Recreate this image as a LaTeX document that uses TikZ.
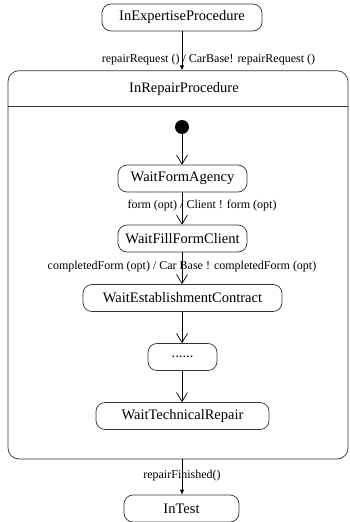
\documentclass[tikz,border=0pt]{standalone}
\usepackage{fontspec}
\setmainfont{Liberation Serif}
\usetikzlibrary{arrows.meta}
\begin{document}
\begin{tikzpicture}[x=1pt,y=-1pt,
  line width=0.7pt,
  statebox/.style={draw=black!80, rounded corners=9pt, minimum height=27pt,
    inner sep=0pt, font=\fontsize{14.5}{16}\selectfont},
  compbox/.style={draw=black!80, rounded corners=11pt, inner sep=0pt},
  lbl/.style={font=\fontsize{12}{14}\selectfont, inner sep=0pt},
  openarr/.style={-{Straight Barb[length=9pt,width=11pt,line width=0.7pt]}},
  fillarr/.style={-{Latex[length=5pt,width=4.5pt]}}]
  \useasboundingbox (0,0) rectangle (350,522);

  % outer states
  \node[statebox, minimum width=160pt] (expert) at (182,17.5) {InExpertiseProcedure};
  \node[compbox, minimum width=340pt, minimum height=388.3pt] (repair) at (178,264.85) {};
  \node[statebox, minimum width=115pt] (intest) at (181.5,508.5) {InTest};

  % composite header
  \node[font=\fontsize{14.5}{16}\selectfont] (repairtitle) at (184,89) {InRepairProcedure};
  \coordinate (divl) at (repair.west |- 0,106);
  \coordinate (divr) at (repair.east |- 0,106);
  \draw[black!80] (divl) -- (divr);

  % inner states
  \node[circle, fill=black, minimum size=14pt, inner sep=0pt] (init) at (182,127) {};
  \node[statebox, minimum width=129pt] (formagency) at (182.5,178.5) {WaitFormAgency};
  \node[statebox, minimum width=129pt] (fillform) at (182.5,238.5) {WaitFillFormClient};
  \node[statebox, minimum width=199pt] (contract) at (182.5,298) {WaitEstablishmentContract};
  \node[statebox, minimum width=69pt] (dots) at (182.5,357) {......};
  \node[statebox, minimum width=173pt] (technical) at (182.5,416) {WaitTechnicalRepair};

  % transitions
  \draw[fillarr] (expert.south -| 182,0) -- node[lbl, pos=0.73, xshift=26.5pt] {repairRequest () / CarBase! repairRequest ()} (repair.north -| 182,0);
  \draw[openarr] (init) -- (formagency.north -| 182,0);
  \draw[openarr] (formagency.south -| 182,0) -- node[lbl, pos=0.42, xshift=20pt] {form (opt) / Client ! form (opt)} (fillform.north -| 182,0);
  \draw[openarr] (fillform.south -| 182,0) -- node[lbl, pos=0.44] {completedForm (opt) / Car Base ! completedForm (opt)} (contract.north -| 182,0);
  \draw[openarr] (contract.south -| 182,0) -- (dots.north -| 182,0);
  \draw[openarr] (dots.south -| 182,0) -- (technical.north -| 182,0);
  \draw[fillarr] (repair.south -| 182,0) -- node[lbl, pos=0.47] {repairFinished()} (intest.north -| 182,0);
\end{tikzpicture}
\end{document}
